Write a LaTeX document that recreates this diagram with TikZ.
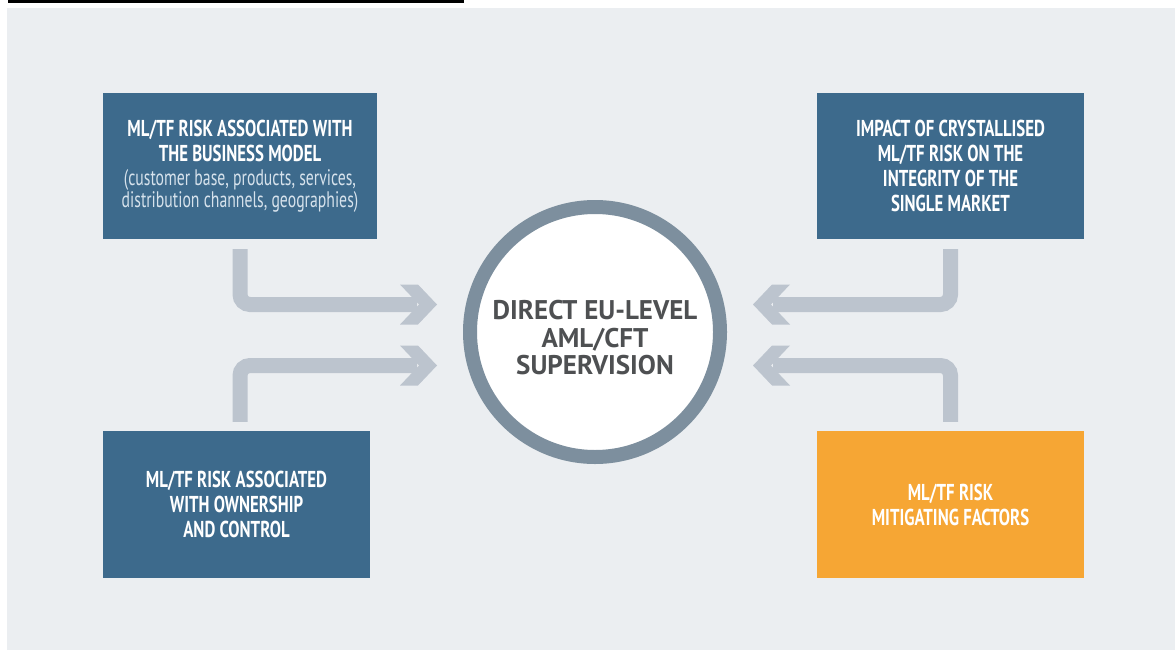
\documentclass[tikz,border=0pt]{standalone}
\usepackage{fontspec}
\setmainfont{PT Sans}
\newfontfamily\condfont[FakeStretch=0.73]{PT Sans}
\newfontfamily\condlight[FakeStretch=0.70]{PT Sans}
\newfontfamily\dinfont{PT Sans}
\definecolor{boxblue}{RGB}{61,106,140}
\definecolor{boxorange}{RGB}{246,166,52}
\definecolor{flowgray}{RGB}{188,196,206}
\definecolor{ringgray}{RGB}{125,143,158}
\definecolor{bggray}{RGB}{235,238,241}
\definecolor{subtext}{RGB}{214,226,236}
\definecolor{labelgray}{RGB}{78,80,82}
\newcommand\sublabel[1]{{\condlight\mdseries\fontsize{22.5}{25}\selectfont\color{subtext}#1}}
\tikzset{chev/.pic={\fill[flowgray] (-37,-20) -- (-19,-20) -- (0,0) -- (-19,20) -- (-37,20) -- (-18,0) -- cycle;}}

\begin{document}
\begin{tikzpicture}[x=1pt,y=-1pt,
        risk box/.style={fill=boxblue,text=white,inner sep=0pt,minimum width=267pt,minimum height=147pt,
          align=center,font=\condfont\bfseries\fontsize{23}{25}\selectfont},
        factor box/.style={risk box,fill=boxorange},
        hub/.style={circle,draw=ringgray,line width=14pt,fill=white,inner sep=0pt,minimum size=250pt},
        hub text/.style={align=center,text=labelgray,font=\dinfont\bfseries\fontsize{27}{27.5}\selectfont},
        flow/.style={draw=flowgray,line width=15pt,rounded corners=10pt}
      ]
      \useasboundingbox (0,0) rectangle (1175,653);
      \fill[bggray] (7,8) rectangle (1175,650);
      \fill[black] (8,0) rectangle (464,2.5);

      % boxes round the hub
      \node[risk box,minimum width=274pt,minimum height=146pt] (bm) at (240,166)
        {ML/TF RISK ASSOCIATED WITH\\THE BUSINESS MODEL\\[-1pt]
         \sublabel{(customer base, products, services,}\\[-3pt]
         \sublabel{distribution channels, geographies)}};
      \node[risk box,minimum height=146pt] (io) at (950.5,166)
        {IMPACT OF CRYSTALLISED\\ML/TF RISK ON THE\\INTEGRITY OF THE\\SINGLE MARKET};
      \node[risk box] (oc) at (236.5,504.5)
        {ML/TF RISK ASSOCIATED\\WITH OWNERSHIP\\AND CONTROL};
      \node[factor box] (mf) at (950.5,504.5)
        {ML/TF RISK\\MITIGATING FACTORS};
      \node[hub] (sup) at (595,332) {};
      \node[hub text] (suptext) at ([yshift=-6pt]sup.center) {DIRECT EU-LEVEL\\AML/CFT\\SUPERVISION};

      % arrow tips
      \coordinate (tipA) at (437,304.5);
      \coordinate (tipB) at (437,365.5);
      \coordinate (tipC) at (753,304.5);
      \coordinate (tipD) at (753,365.5);

      % flows into the hub
      \draw[flow] ([yshift=-10pt]bm.south) |- ([xshift=-20pt]tipA);
      \draw[flow] ([yshift=9pt]bm.south |- oc.north) |- ([xshift=-20pt]tipB);
      \draw[flow] ([yshift=-10pt]io.south) |- ([xshift=20pt]tipC);
      \draw[flow] ([yshift=9pt]mf.north) |- ([xshift=20pt]tipD);
      \pic at (tipA) {chev};
      \pic at (tipB) {chev};
      \pic[rotate=180] at (tipC) {chev};
      \pic[rotate=180] at (tipD) {chev};
    \end{tikzpicture}
\end{document}
